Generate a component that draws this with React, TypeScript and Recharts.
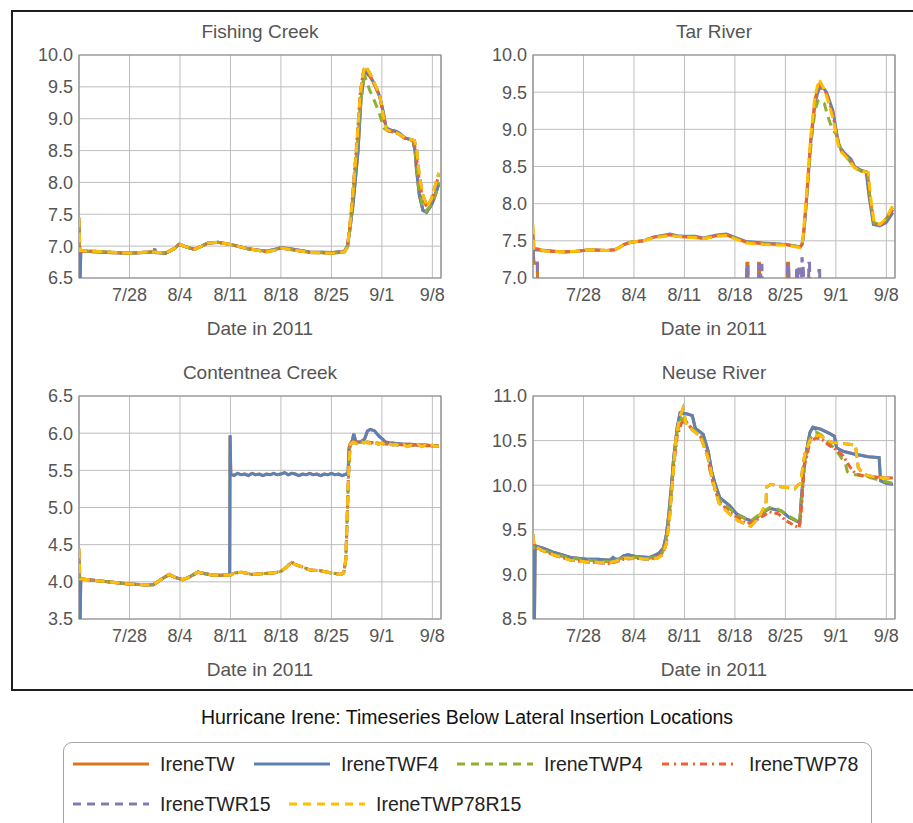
import React from 'react';
import { LineChart, Line, XAxis, YAxis, CartesianGrid, ReferenceArea } from 'recharts';

type Pt = [number, number];

// day 0 = 7/21/2011
const dayTicks = [7, 14, 21, 28, 35, 42, 49];
const dayLabels = ['7/28', '8/4', '8/11', '8/18', '8/25', '9/1', '9/8'];
const dayDomain: [number, number] = [0, 50.2];

const seriesNames = ['IreneTW', 'IreneTWF4', 'IreneTWP4', 'IreneTWP78', 'IreneTWR15', 'IreneTWP78R15'];
const seriesColors = ['#d9771f', '#5e81b5', '#8fb032', '#eb6235', '#8778b3', '#ffbf00'];
const seriesDash = ['', '', '9 6', '7 3 2 3', '10 5', '10 5'];
const legendDash = ['', '', '8 6', '7 5 2 5', '8 6', '8 6'];

// ---- Fishing Creek ----
const fishingF4: Pt[] = [
  [0, 7.35], [0.1, 6.8], [0.15, 6.45], [0.25, 6.93], [2, 6.91], [4, 6.9], [7, 6.89], [9, 6.9], [10.4, 6.91], [10.5, 6.96],
  [10.6, 6.9], [12, 6.89], [13.2, 6.96], [13.9, 7.03], [14.8, 6.99], [16, 6.95], [17, 7.0], [17.9, 7.05], [19.3, 7.06],
  [21.3, 7.02], [23.4, 6.96], [26, 6.92], [27.2, 6.95], [28, 6.98], [29.7, 6.95], [32, 6.91], [35.2, 6.9], [36.8, 6.92],
  [37.2, 7.0], [37.5, 7.2], [38, 7.65], [38.7, 8.5], [39.1, 9.3], [39.5, 9.65], [39.7, 9.73], [40.3, 9.67], [40.8, 9.58],
  [41.7, 9.35], [42.2, 9.1], [42.6, 8.85], [43.3, 8.82], [44, 8.8], [44.5, 8.77], [45.2, 8.7], [46.3, 8.66], [46.6, 8.5],
  [46.8, 8.2], [47.2, 7.8], [47.7, 7.56], [48.2, 7.53], [48.9, 7.65], [49.4, 7.8], [49.9, 7.98],
];
const fishingP4: Pt[] = [
  [0, 7.3], [0.1, 6.95], [0.2, 6.93], [2, 6.92], [4, 6.91], [7, 6.89], [10, 6.91], [12, 6.89], [13.2, 6.96], [13.9, 7.03],
  [14.8, 6.99], [16, 6.95], [17, 7.0], [17.9, 7.05], [19.3, 7.06], [21.3, 7.02], [23.4, 6.96], [26, 6.92], [27.2, 6.95],
  [28, 6.97], [29.7, 6.94], [32, 6.9], [35.2, 6.89], [36.8, 6.91], [37.3, 7.0], [37.6, 7.3], [38, 7.8], [38.6, 8.6],
  [39.1, 9.3], [39.5, 9.6], [39.7, 9.65], [40.3, 9.45], [40.9, 9.3], [41.6, 9.1], [42.3, 8.85], [43, 8.8], [44, 8.78],
  [44.5, 8.75], [45.2, 8.69], [46.4, 8.66], [46.7, 8.4], [47.1, 7.95], [47.6, 7.65], [48.1, 7.55], [48.9, 7.65], [49.4, 7.8],
  [49.9, 8.0],
];
const fishingP78: Pt[] = [
  [0, 7.4], [0.1, 6.95], [0.2, 6.92], [2, 6.92], [4, 6.9], [7, 6.89], [10, 6.91], [12, 6.89], [13.2, 6.96], [13.9, 7.03],
  [14.8, 6.99], [16, 6.95], [17, 7.0], [17.9, 7.05], [19.3, 7.06], [21.3, 7.02], [23.4, 6.96], [26, 6.91], [27.2, 6.94],
  [28, 6.97], [29.7, 6.94], [32, 6.9], [35.2, 6.89], [36.8, 6.91], [37.2, 6.99], [37.5, 7.25], [37.9, 7.75], [38.5, 8.6],
  [39, 9.4], [39.4, 9.72], [39.6, 9.8], [40.2, 9.7], [40.8, 9.58], [41.7, 9.36], [42.2, 9.05], [42.6, 8.82], [43.3, 8.8],
  [44, 8.78], [44.5, 8.74], [45.2, 8.69], [46.4, 8.66], [46.7, 8.5], [47.1, 8.1], [47.6, 7.78], [48.2, 7.62], [48.9, 7.72],
  [49.4, 7.92], [49.9, 8.12],
];
const fishingP78R15: Pt[] = [
  [0, 7.45], [0.1, 7.0], [0.2, 6.93], [2, 6.92], [4, 6.91], [7, 6.89], [10, 6.91], [12, 6.89], [13.2, 6.96], [13.9, 7.03],
  [14.8, 6.99], [16, 6.95], [17, 7.0], [17.9, 7.05], [19.3, 7.06], [21.3, 7.02], [23.4, 6.96], [26, 6.91], [27.2, 6.94],
  [28, 6.97], [29.7, 6.94], [32, 6.9], [35.2, 6.89], [36.8, 6.91], [37.2, 6.98], [37.5, 7.25], [37.9, 7.7], [38.5, 8.55],
  [39, 9.4], [39.5, 9.75], [39.7, 9.83], [40.3, 9.72], [40.8, 9.6], [41.7, 9.37], [42.2, 9.05], [42.6, 8.83], [43.3, 8.8],
  [44, 8.78], [44.5, 8.75], [45.2, 8.7], [46.5, 8.66], [46.8, 8.55], [47.2, 8.1], [47.7, 7.8], [48.3, 7.62], [48.9, 7.75],
  [49.4, 7.95], [49.9, 8.15],
];
// IreneTW runs under IreneTWF4 and IreneTWR15 under IreneTWP78R15 in this panel
const fishingTW = fishingF4;
const fishingR15 = fishingP78R15;

// ---- Tar River ----
const tarTW: Pt[] = [
  [0, 7.4], [0.1, 7.25], [0.2, 7.2], [0.6, 7.2], [0.65, 6.8], [29.6, 6.8], [29.65, 7.2], [29.8, 7.2], [29.85, 6.8],
  [31.25, 6.8], [31.3, 7.2], [31.4, 7.2], [31.45, 6.8], [35.25, 6.8], [35.3, 7.2], [35.45, 7.2], [35.5, 6.8], [49.9, 6.8],
];
const tarF4: Pt[] = [
  [0, 7.45], [0.15, 7.38], [2, 7.37], [4.2, 7.35], [6, 7.36], [7.9, 7.38], [10.2, 7.37], [11.3, 7.38], [11.8, 7.4],
  [12.6, 7.45], [13.5, 7.48], [15.3, 7.5], [16.7, 7.55], [19, 7.59], [20, 7.57], [21.3, 7.56], [22.5, 7.56], [23.6, 7.54],
  [25.5, 7.58], [26.8, 7.59], [28.2, 7.54], [29.6, 7.49], [31.9, 7.47], [35.1, 7.45], [37, 7.42], [37.3, 7.45], [37.5, 7.55],
  [37.9, 8.0], [38.5, 8.8], [39.1, 9.35], [39.5, 9.5], [39.8, 9.56], [40.3, 9.55], [40.7, 9.5], [41.6, 9.25], [42.1, 8.95],
  [42.5, 8.77], [43.2, 8.68], [44.1, 8.6], [44.6, 8.5], [45.5, 8.45], [46.2, 8.43], [46.6, 8.1], [47.2, 7.72], [48.1, 7.7],
  [49, 7.75], [49.9, 7.88],
];
const tarP4: Pt[] = [
  [0, 7.5], [0.15, 7.38], [2, 7.36], [4.2, 7.35], [6, 7.36], [7.9, 7.38], [10.2, 7.37], [11.3, 7.38], [11.8, 7.4],
  [12.6, 7.45], [13.5, 7.48], [15.3, 7.5], [16.7, 7.55], [19, 7.58], [20, 7.56], [21.3, 7.55], [22.5, 7.55], [23.6, 7.53],
  [25.5, 7.57], [26.8, 7.58], [28.2, 7.53], [29.6, 7.48], [31.9, 7.46], [35.1, 7.45], [37, 7.42], [37.3, 7.46], [37.6, 7.65],
  [38, 8.15], [38.6, 8.85], [39.1, 9.25], [39.5, 9.38], [39.8, 9.4], [40.4, 9.35], [40.8, 9.2], [41.5, 9.0], [42.1, 8.93],
  [42.8, 8.7], [43.5, 8.63], [44.1, 8.55], [44.6, 8.48], [45.5, 8.44], [46.4, 8.42], [46.7, 8.1], [47.3, 7.74], [48.1, 7.72],
  [49, 7.8], [49.9, 7.95],
];
const tarP78: Pt[] = [
  [0, 7.6], [0.15, 7.4], [2, 7.36], [4.2, 7.35], [6, 7.36], [7.9, 7.38], [10.2, 7.37], [11.3, 7.38], [11.8, 7.4],
  [12.6, 7.45], [13.5, 7.48], [15.3, 7.5], [16.7, 7.55], [19, 7.58], [20, 7.56], [21.3, 7.55], [22.5, 7.55], [23.6, 7.53],
  [25.5, 7.57], [26.8, 7.58], [28.2, 7.53], [29.6, 7.48], [31.9, 7.46], [35.1, 7.45], [37, 7.41], [37.3, 7.45], [37.5, 7.58],
  [37.9, 8.05], [38.5, 8.85], [39.1, 9.4], [39.5, 9.55], [39.7, 9.6], [40.3, 9.55], [40.7, 9.48], [41.6, 9.2], [42.1, 8.92],
  [42.5, 8.75], [43.2, 8.66], [44.1, 8.57], [44.6, 8.49], [45.5, 8.44], [46.4, 8.42], [46.7, 8.1], [47.3, 7.73], [48.1, 7.71],
  [49, 7.78], [49.9, 7.92],
];
const tarR15: Pt[] = [
  [0, 7.38], [0.1, 7.22], [0.2, 7.2], [0.6, 7.2], [0.65, 6.8],
  [29.6, 6.8], [29.65, 7.18], [29.8, 7.18], [29.85, 6.8],
  [31.25, 6.8], [31.3, 7.18], [31.4, 7.18], [31.45, 6.8], [31.55, 6.8], [31.6, 7.17], [31.75, 7.17], [31.8, 6.8],
  [35.25, 6.8], [35.3, 7.18], [35.45, 7.18], [35.5, 6.8],
  [36.5, 6.8], [36.55, 7.15], [36.7, 7.15], [36.75, 6.8], [36.85, 6.8], [36.9, 7.12], [37.0, 7.12], [37.05, 6.8],
  [37.2, 6.8], [37.3, 7.28], [37.5, 7.1], [37.55, 6.8],
  [38.2, 6.8], [38.25, 7.2], [38.35, 7.2], [38.4, 6.8],
  [39.6, 6.8], [39.65, 7.1], [39.75, 7.1], [39.8, 6.8], [49.9, 6.8],
];
const tarP78R15: Pt[] = [
  [0, 7.72], [0.15, 7.4], [2, 7.36], [4.2, 7.35], [6, 7.36], [7.9, 7.38], [10.2, 7.37], [11.3, 7.38], [11.8, 7.4],
  [12.6, 7.45], [13.5, 7.48], [15.3, 7.5], [16.7, 7.54], [19, 7.57], [20, 7.56], [21.3, 7.55], [22.5, 7.54], [23.6, 7.53],
  [25.5, 7.56], [26.8, 7.57], [28.2, 7.52], [29.6, 7.47], [31.9, 7.45], [35.1, 7.44], [37, 7.41], [37.3, 7.45], [37.5, 7.6],
  [37.9, 8.1], [38.5, 8.9], [39.1, 9.45], [39.5, 9.6], [39.7, 9.67], [40.3, 9.55], [40.7, 9.45], [41.6, 9.15], [42.1, 8.9],
  [42.5, 8.72], [43.2, 8.65], [44.1, 8.55], [44.6, 8.48], [45.5, 8.44], [46.5, 8.42], [46.8, 8.1], [47.3, 7.75], [48.1, 7.72],
  [49, 7.8], [49.9, 7.98],
];

// ---- Contentnea Creek ----
const contF4: Pt[] = [
  [0, 4.3], [0.1, 3.8], [0.15, 3.45], [0.25, 4.04], [2, 4.02], [4, 4.0], [7, 3.97], [9, 3.96], [10.3, 3.96], [11.2, 4.02],
  [12.5, 4.1], [13.3, 4.06], [14.4, 4.03], [15.2, 4.06], [16.5, 4.13], [17.5, 4.11], [18.6, 4.09], [20.9, 4.09],
  [20.95, 5.97], [21.05, 5.45], [21.5, 5.43], [22, 5.46], [22.5, 5.44], [23, 5.45], [23.5, 5.43], [24, 5.46], [24.5, 5.44],
  [25, 5.45], [25.5, 5.43], [26, 5.45], [26.5, 5.44], [27, 5.46], [27.5, 5.44], [28, 5.45], [28.5, 5.47], [29, 5.44],
  [29.5, 5.46], [30, 5.45], [30.5, 5.43], [31, 5.45], [31.5, 5.44], [32, 5.46], [32.5, 5.44], [33, 5.45], [33.5, 5.43],
  [34, 5.45], [34.5, 5.44], [35, 5.46], [35.5, 5.44], [36, 5.45], [36.5, 5.43], [37, 5.45], [37.3, 5.44], [37.45, 5.8],
  [37.6, 5.85], [37.9, 5.9], [38.1, 5.99], [38.4, 5.88], [39, 5.88], [39.6, 5.92], [40, 6.03], [40.4, 6.05], [41, 6.03],
  [41.6, 5.96], [42.1, 5.92], [42.5, 5.88], [43, 5.87], [44, 5.86], [45, 5.85], [46, 5.85], [47, 5.84], [48, 5.84],
  [49, 5.83], [49.9, 5.83],
];
const contP4: Pt[] = [
  [0, 4.3], [0.1, 4.08], [0.2, 4.04], [2, 4.02], [4, 4.0], [7, 3.97], [9, 3.96], [10.3, 3.96], [11.2, 4.02], [12.5, 4.1],
  [13.3, 4.06], [14.4, 4.03], [15.2, 4.06], [16.5, 4.13], [17.5, 4.11], [18.6, 4.09], [20.9, 4.09], [21.6, 4.12],
  [22.5, 4.13], [24, 4.1], [25.5, 4.11], [27, 4.12], [28, 4.14], [28.8, 4.2], [29.5, 4.26], [30, 4.23], [31, 4.2],
  [32, 4.16], [33.5, 4.15], [35, 4.12], [36.3, 4.1], [36.7, 4.12], [37, 4.3], [37.2, 4.9], [37.4, 5.5], [37.6, 5.85],
  [38, 5.87], [39, 5.88], [40, 5.87], [41, 5.87], [42, 5.86], [43, 5.85], [44, 5.84], [45, 5.84], [46, 5.83], [47, 5.84],
  [48, 5.83], [49, 5.83], [49.9, 5.82],
];
const contP78: Pt[] = [
  [0, 4.4], [0.1, 4.1], [0.2, 4.04], [2, 4.02], [4, 4.0], [7, 3.97], [9, 3.96], [10.3, 3.96], [11.2, 4.02], [12.5, 4.1],
  [13.3, 4.06], [14.4, 4.03], [15.2, 4.06], [16.5, 4.13], [17.5, 4.11], [18.6, 4.09], [20.9, 4.09], [21.6, 4.12],
  [22.5, 4.13], [24, 4.1], [25.5, 4.11], [27, 4.12], [28, 4.14], [28.8, 4.2], [29.5, 4.27], [30, 4.23], [31, 4.2],
  [32, 4.16], [33.5, 4.15], [35, 4.12], [36.3, 4.1], [36.7, 4.12], [37, 4.3], [37.2, 4.9], [37.4, 5.5], [37.6, 5.85],
  [38, 5.88], [39, 5.88], [40, 5.88], [41, 5.87], [42, 5.86], [43, 5.85], [44, 5.85], [45, 5.84], [46, 5.84], [47, 5.84],
  [48, 5.83], [49, 5.83], [49.9, 5.83],
];
const contP78R15: Pt[] = [
  [0, 4.45], [0.1, 4.1], [0.2, 4.04], [2, 4.02], [4, 4.0], [7, 3.97], [9, 3.96], [10.3, 3.96], [11.2, 4.02], [12.5, 4.1],
  [13.3, 4.06], [14.4, 4.03], [15.2, 4.06], [16.5, 4.13], [17.5, 4.11], [18.6, 4.09], [20.9, 4.09], [21.6, 4.12],
  [22.5, 4.13], [24, 4.1], [25.5, 4.11], [27, 4.12], [28, 4.14], [28.8, 4.2], [29.5, 4.27], [30, 4.23], [31, 4.2],
  [32, 4.16], [33.5, 4.15], [35, 4.12], [36.3, 4.1], [36.7, 4.12], [37, 4.3], [37.2, 4.9], [37.4, 5.5], [37.6, 5.85],
  [38, 5.88], [38.5, 5.86], [39, 5.89], [39.5, 5.87], [40, 5.88], [40.5, 5.86], [41, 5.88], [41.5, 5.85], [42, 5.87],
  [42.5, 5.84], [43, 5.86], [43.5, 5.84], [44, 5.85], [44.5, 5.83], [45, 5.85], [45.5, 5.82], [46, 5.84], [46.5, 5.83],
  [47, 5.85], [47.5, 5.82], [48, 5.84], [48.5, 5.82], [49, 5.84], [49.5, 5.82], [49.9, 5.83],
];
const contTW = contF4;
const contR15 = contP78R15;

// ---- Neuse River ----
const neuseF4: Pt[] = [
  [0, 9.3], [0.1, 8.9], [0.2, 8.45], [0.3, 9.32], [1.5, 9.29], [2.8, 9.25], [4, 9.22], [5.2, 9.19], [7.5, 9.17], [9, 9.17],
  [10.7, 9.16], [11.1, 9.19], [11.4, 9.17], [11.9, 9.17], [12.6, 9.21], [13.2, 9.22], [14.2, 9.2], [16.2, 9.19],
  [16.8, 9.21], [17.5, 9.24], [18.1, 9.3], [18.5, 9.45], [18.8, 9.65], [19.2, 10.0], [19.5, 10.3], [20, 10.65],
  [20.4, 10.81], [21.3, 10.8], [22.1, 10.78], [22.5, 10.64], [23.6, 10.57], [24.3, 10.38], [24.8, 10.15], [25.2, 10.03],
  [25.9, 9.86], [27.3, 9.77], [28.2, 9.68], [29.6, 9.62], [30.3, 9.6], [31.2, 9.65], [32.2, 9.71], [32.8, 9.74],
  [34.5, 9.71], [35.5, 9.64], [36.5, 9.6], [37, 9.58], [37.2, 9.84], [37.7, 10.29], [38.4, 10.59], [38.8, 10.65],
  [39.8, 10.63], [41.1, 10.58], [41.8, 10.55], [42.1, 10.42], [43, 10.38], [44.5, 10.35], [46.5, 10.32], [48, 10.31],
  [48.2, 10.05], [49, 10.02], [49.9, 10.01],
];
const neuseP4: Pt[] = [
  [0, 9.35], [0.15, 9.3], [1.5, 9.27], [2.8, 9.23], [5.2, 9.18], [7.5, 9.16], [10.7, 9.14], [11.5, 9.16], [12.6, 9.19],
  [14.2, 9.19], [16.2, 9.18], [17.2, 9.2], [18, 9.25], [18.6, 9.45], [19, 9.75], [19.5, 10.25], [20, 10.6], [20.6, 10.75],
  [21.2, 10.72], [22.1, 10.63], [23.2, 10.56], [24.1, 10.4], [24.6, 10.15], [25.1, 10.0], [25.8, 9.84], [27.2, 9.74],
  [28.5, 9.66], [29.6, 9.62], [30.2, 9.6], [31.2, 9.66], [32.8, 9.75], [34, 9.73], [35.1, 9.67], [36.2, 9.62], [36.9, 9.58],
  [37.2, 9.75], [37.6, 10.25], [38.4, 10.52], [39.2, 10.6], [40, 10.56], [41, 10.47], [42, 10.4], [42.8, 10.3],
  [43.3, 10.25], [43.6, 10.15], [44, 10.13], [44.5, 10.12], [46, 10.1], [48, 10.06], [49.9, 10.02],
];
const neuseP78: Pt[] = [
  [0, 9.4], [0.15, 9.3], [1.5, 9.26], [2.8, 9.22], [5.2, 9.16], [7.5, 9.14], [10.7, 9.12], [11.5, 9.14], [12.6, 9.17],
  [14.2, 9.18], [16.2, 9.17], [17.2, 9.19], [18, 9.24], [18.6, 9.4], [19, 9.7], [19.5, 10.2], [20, 10.55], [20.6, 10.7],
  [21.2, 10.72], [22.1, 10.62], [23.2, 10.55], [24.1, 10.38], [24.6, 10.15], [25.1, 9.98], [25.8, 9.82], [27.2, 9.7],
  [28.5, 9.63], [29.6, 9.57], [30.2, 9.58], [31.2, 9.62], [32.8, 9.7], [34, 9.68], [35.1, 9.6], [36.2, 9.55], [36.9, 9.52],
  [37.2, 9.7], [37.6, 10.2], [38.4, 10.48], [39.2, 10.53], [40, 10.52], [41, 10.45], [42, 10.4], [43, 10.33], [44, 10.2],
  [44.7, 10.13], [46, 10.1], [48, 10.09], [49.9, 10.08],
];
const neuseP78R15: Pt[] = [
  [0, 9.45], [0.15, 9.32], [1.5, 9.26], [2.8, 9.22], [5.2, 9.16], [7.5, 9.14], [10.7, 9.13], [11.5, 9.15], [12.6, 9.18],
  [14.2, 9.18], [16.2, 9.17], [17.2, 9.18], [18, 9.22], [18.5, 9.35], [18.9, 9.6], [19.3, 10.0], [19.8, 10.5],
  [20.3, 10.75], [20.8, 10.86], [21.2, 10.7], [22.1, 10.62], [23.2, 10.55], [24.3, 10.3], [25.1, 10.0], [25.8, 9.8],
  [27.2, 9.68], [28.5, 9.6], [29.6, 9.56], [30.2, 9.54], [30.9, 9.6], [31.6, 9.68], [32.1, 9.76], [32.3, 9.78],
  [32.4, 9.98], [33, 10.01], [34.5, 9.98], [35.6, 9.97], [36.3, 9.96], [36.7, 10.0], [37.1, 10.02], [37.4, 10.2],
  [37.7, 10.35], [38.4, 10.5], [39, 10.55], [39.8, 10.56], [40.8, 10.5], [41.5, 10.48], [42.6, 10.47], [43.8, 10.46],
  [44.7, 10.45], [45.1, 10.2], [45.8, 10.12], [47.5, 10.09], [48.8, 10.08], [49.9, 10.07],
];
const neuseTW = neuseF4;
const neuseR15 = neuseP78R15;

const FONT = '"Liberation Sans", Arial, sans-serif';
const TEXT_GREY = '#555555';

interface PanelProps {
  left: number;
  top: number;
  title: string;
  yDomain: [number, number];
  yTicks: number[];
  series: Pt[][];
}

function Panel({ left, top, title, yDomain, yTicks, series }: PanelProps) {
  return (
    <div style={{ position: 'absolute', left, top, width: 450, height: 340 }}>
      <div
        style={{
          position: 'absolute', left: 67, top: 12, width: 362, textAlign: 'center',
          fontSize: 19, lineHeight: '20px', color: TEXT_GREY,
        }}
      >
        {title}
      </div>
      <LineChart width={450} height={340} margin={{ top: 45, right: 21, bottom: 10, left: 11 }}>
        <CartesianGrid stroke="#bdbdbd" strokeWidth={1} />
        <XAxis
          type="number"
          dataKey="d"
          domain={dayDomain}
          ticks={dayTicks}
          interval={0}
          allowDataOverflow
          tickFormatter={(d: number) => dayLabels[dayTicks.indexOf(d)]}
          tick={{ fill: TEXT_GREY, fontSize: 18 }}
          tickLine={false}
          axisLine={false}
          tickSize={0}
          tickMargin={10}
          height={62}
          label={{ value: 'Date in 2011', position: 'insideBottom', offset: 5, fill: TEXT_GREY, fontSize: 19 }}
        />
        <YAxis
          type="number"
          domain={yDomain}
          ticks={yTicks}
          interval={0}
          allowDataOverflow
          tickFormatter={(v: number) => v.toFixed(1)}
          tick={{ fill: TEXT_GREY, fontSize: 18 }}
          tickLine={false}
          axisLine={false}
          tickSize={0}
          tickMargin={6}
          width={56}
        />
        <ReferenceArea
          x1={dayDomain[0]}
          x2={dayDomain[1]}
          y1={yDomain[0]}
          y2={yDomain[1]}
          fill="none"
          stroke="#8a8a8a"
          strokeWidth={1.2}
          fillOpacity={0}
        />
        {series.map((pts, i) => (
          <Line
            key={seriesNames[i]}
            name={seriesNames[i]}
            data={pts.map(([d, v]) => ({ d, v }))}
            dataKey="v"
            type="linear"
            stroke={seriesColors[i]}
            strokeWidth={3}
            strokeDasharray={seriesDash[i] || undefined}
            dot={false}
            activeDot={false}
            isAnimationActive={false}
          />
        ))}
      </LineChart>
    </div>
  );
}

const legendX = [73, 254, 457, 662, 73, 289];
const legendY = [764, 764, 764, 764, 804, 804];

export default function App() {
  return (
    <div
      style={{
        position: 'absolute', left: 0, top: 0, width: 913, height: 823, overflow: 'hidden',
        background: '#fff', fontFamily: FONT,
      }}
    >
      <div
        style={{
          position: 'absolute', left: 11, top: 10, width: 940, height: 681,
          border: '2px solid #1e1e1e', boxSizing: 'border-box',
        }}
      />
      <Panel
        left={12}
        top={10}
        title="Fishing Creek"
        yDomain={[6.5, 10]}
        yTicks={[6.5, 7, 7.5, 8, 8.5, 9, 9.5, 10]}
        series={[fishingTW, fishingF4, fishingP4, fishingP78, fishingR15, fishingP78R15]}
      />
      <Panel
        left={466}
        top={10}
        title="Tar River"
        yDomain={[7, 10]}
        yTicks={[7, 7.5, 8, 8.5, 9, 9.5, 10]}
        series={[tarTW, tarF4, tarP4, tarP78, tarR15, tarP78R15]}
      />
      <Panel
        left={12}
        top={351}
        title="Contentnea Creek"
        yDomain={[3.5, 6.5]}
        yTicks={[3.5, 4, 4.5, 5, 5.5, 6, 6.5]}
        series={[contTW, contF4, contP4, contP78, contR15, contP78R15]}
      />
      <Panel
        left={466}
        top={351}
        title="Neuse River"
        yDomain={[8.5, 11]}
        yTicks={[8.5, 9, 9.5, 10, 10.5, 11]}
        series={[neuseTW, neuseF4, neuseP4, neuseP78, neuseR15, neuseP78R15]}
      />
      <div
        style={{
          position: 'absolute', left: 0, top: 706, width: 934, textAlign: 'center',
          fontSize: 19.5, lineHeight: '22px', color: '#111',
        }}
      >
        Hurricane Irene: Timeseries Below Lateral Insertion Locations
      </div>
      <div
        style={{
          position: 'absolute', left: 63, top: 742, width: 809, height: 100,
          border: '1px solid #a5a5a5', borderRadius: 9, boxSizing: 'border-box',
        }}
      />
      {seriesNames.map((name, i) => (
        <div
          key={name}
          style={{ position: 'absolute', left: legendX[i], top: legendY[i] - 12, height: 24, display: 'flex', alignItems: 'center' }}
        >
          <svg width={76} height={6} style={{ display: 'block' }}>
            <line
              x1={0}
              y1={3}
              x2={76}
              y2={3}
              stroke={seriesColors[i]}
              strokeWidth={3}
              strokeDasharray={legendDash[i] || undefined}
            />
          </svg>
          <span style={{ marginLeft: 11, fontSize: 19.5, color: '#222', whiteSpace: 'nowrap' }}>{name}</span>
        </div>
      ))}
    </div>
  );
}
